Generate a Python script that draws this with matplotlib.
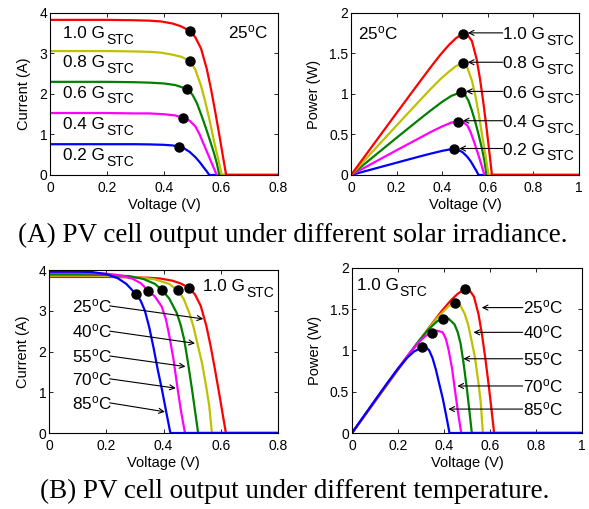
# PV cell I-V and P-V curves
# Top row: different solar irradiance at 25 C
# Bottom row: different temperature at 1.0 G_STC

import numpy as np
import matplotlib.pyplot as plt
from matplotlib.ticker import FuncFormatter

plt.rcParams["font.family"] = ["Liberation Sans", "DejaVu Sans"]
plt.rcParams["mathtext.fontset"] = "custom"
plt.rcParams["mathtext.rm"] = "Liberation Sans"
plt.rcParams["mathtext.it"] = "Liberation Sans:italic"

# ---------- DATA: irradiance sweep (25 C) ----------
irr_labels = ["0.2", "0.4", "0.6", "0.8", "1.0"]
irr_colors = ["#0000ff", "#ff00ff", "#008000", "#c0c000", "#ff0000"]

v_g02 = [0, 0.1, 0.2, 0.3, 0.35, 0.40, 0.43, 0.453, 0.47, 0.49, 0.51, 0.525, 0.54, 0.55, 0.559, 1.0]
i_g02 = [0.76, 0.76, 0.76, 0.76, 0.755, 0.745, 0.73, 0.70, 0.66, 0.57, 0.44, 0.32, 0.18, 0.09, 0, 0]

v_g04 = [0, 0.1, 0.2, 0.3, 0.35, 0.40, 0.44, 0.468, 0.49, 0.51, 0.525, 0.54, 0.555, 0.57, 0.585, 1.0]
i_g04 = [1.53, 1.53, 1.53, 1.52, 1.52, 1.50, 1.47, 1.41, 1.34, 1.20, 1.00, 0.75, 0.50, 0.25, 0, 0]

v_g06 = [0, 0.1, 0.2, 0.3, 0.35, 0.40, 0.44, 0.482, 0.50, 0.515, 0.53, 0.545, 0.56, 0.575, 0.585, 0.594, 1.0]
i_g06 = [2.30, 2.30, 2.30, 2.29, 2.28, 2.26, 2.22, 2.12, 1.98, 1.78, 1.50, 1.20, 0.88, 0.55, 0.30, 0, 0]

v_g08 = [0, 0.1, 0.2, 0.3, 0.35, 0.39, 0.43, 0.46, 0.49, 0.51, 0.53, 0.545, 0.56, 0.575, 0.59, 0.603, 1.0]
i_g08 = [3.06, 3.06, 3.06, 3.05, 3.04, 3.02, 2.97, 2.92, 2.82, 2.60, 2.20, 1.80, 1.35, 0.85, 0.40, 0, 0]

v_g10 = [0, 0.1, 0.2, 0.3, 0.35, 0.39, 0.43, 0.46, 0.49, 0.51, 0.53, 0.55, 0.565, 0.58, 0.595, 0.607, 0.618, 1.0]
i_g10 = [3.83, 3.83, 3.83, 3.82, 3.81, 3.79, 3.74, 3.67, 3.56, 3.40, 3.12, 2.62, 2.12, 1.55, 0.95, 0.45, 0, 0]

irr_v = [v_g02, v_g04, v_g06, v_g08, v_g10]
irr_i = [i_g02, i_g04, i_g06, i_g08, i_g10]

# maximum power points
mpp_irr_v = [0.453, 0.468, 0.482, 0.49, 0.49]
mpp_irr_i = [0.70, 1.41, 2.12, 2.82, 3.56]

# ---------- DATA: temperature sweep (1.0 G_STC) ----------
temp_labels = ["25", "40", "55", "70", "85"]
temp_colors = ["#ff0000", "#c0c000", "#008000", "#ff00ff", "#0000ff"]

v_t25 = v_g10
i_t25 = i_g10

v_t40 = [0, 0.1, 0.2, 0.3, 0.37, 0.42, 0.449, 0.47, 0.49, 0.505, 0.52, 0.535, 0.55, 0.56, 0.569, 1.0]
i_t40 = [3.86, 3.86, 3.855, 3.83, 3.77, 3.66, 3.50, 3.30, 2.95, 2.60, 2.15, 1.70, 1.10, 0.65, 0, 0]

v_t55 = [0, 0.1, 0.2, 0.28, 0.33, 0.37, 0.396, 0.42, 0.446, 0.46, 0.472, 0.485, 0.50, 0.51, 0.521, 1.0]
i_t55 = [3.89, 3.89, 3.88, 3.85, 3.78, 3.66, 3.50, 3.30, 2.95, 2.65, 2.30, 1.75, 1.05, 0.55, 0, 0]

v_t70 = [0, 0.1, 0.2, 0.25, 0.29, 0.32, 0.347, 0.37, 0.394, 0.408, 0.42, 0.435, 0.45, 0.462, 0.475, 1.0]
i_t70 = [3.93, 3.93, 3.91, 3.87, 3.79, 3.68, 3.49, 3.35, 3.10, 2.80, 2.40, 1.80, 1.05, 0.50, 0, 0]

v_t85 = [0, 0.1, 0.15, 0.2, 0.24, 0.27, 0.305, 0.32, 0.335, 0.35, 0.365, 0.38, 0.395, 0.41, 0.424, 1.0]
i_t85 = [3.96, 3.96, 3.95, 3.90, 3.80, 3.66, 3.40, 3.25, 3.00, 2.60, 2.10, 1.55, 1.05, 0.50, 0, 0]

temp_v = [v_t25, v_t40, v_t55, v_t70, v_t85]
temp_i = [i_t25, i_t40, i_t55, i_t70, i_t85]

mpp_temp_v = [0.49, 0.449, 0.396, 0.347, 0.305]
mpp_temp_i = [3.56, 3.50, 3.50, 3.49, 3.40]

LW = 1.6
MS = 6.5
TXT = 12.3
SUB = 10.0
DEG = "$^{\\mathrm{o}}$C"


def fmt(x, pos):
    return "%g" % x


def setup(ax, xmax, xstep, ymax, ystep, ylabel):
    ax.set_xlim(0, xmax)
    ax.set_ylim(0, ymax)
    ax.set_xticks(np.arange(0, xmax + 1e-9, xstep))
    ax.set_yticks(np.arange(0, ymax + 1e-9, ystep))
    ax.xaxis.set_major_formatter(FuncFormatter(fmt))
    ax.yaxis.set_major_formatter(FuncFormatter(fmt))
    ax.tick_params(direction="in", top=True, right=True, length=3, width=0.6,
                   labelsize=10)
    ax.tick_params(axis="x", pad=4.5)
    ax.tick_params(axis="y", pad=2)
    for s in ax.spines.values():
        s.set_linewidth(0.8)
    ax.set_xlabel("Voltage (V)", fontsize=10.5, labelpad=2)
    ax.set_ylabel(ylabel, fontsize=10.5, labelpad=6)


def label(ax, x, y, s):
    # y is the vertical centre of the capital letters
    return ax.annotate(s, xy=(x, y), xytext=(0, -0.358 * TXT), textcoords="offset points",
                       ha="left", va="baseline", fontsize=TXT)


def label_g(ax, x, y, s):
    # "x.x G" with a larger-than-mathtext STC subscript
    t = label(ax, x, y, s + " G")
    ax.annotate("STC", xy=(1, 0), xycoords=t, xytext=(0.6, -2.0),
                textcoords="offset points", ha="left", va="baseline", fontsize=SUB)
    return t


def arrow(ax, start, tip):
    ax.annotate("", xy=tip, xytext=start,
                arrowprops=dict(arrowstyle="->", color="k", lw=0.8,
                                shrinkA=0, shrinkB=0, mutation_scale=9))


fig = plt.figure(figsize=(5.89, 5.09), dpi=100)

# ---------- (A) irradiance ----------
ax1 = fig.add_axes([0.0849, 0.6562, 0.3871, 0.3183])
ax2 = fig.add_axes([0.5960, 0.6562, 0.3871, 0.3183])

for v, i, c in zip(irr_v, irr_i, irr_colors):
    v = np.array(v)
    i = np.array(i)
    ax1.plot(v, i, color=c, lw=LW)
    ax2.plot(v, v * i, color=c, lw=LW)
mv = np.array(mpp_irr_v)
mi = np.array(mpp_irr_i)
ax1.plot(mv, mi, "o", color="k", ms=MS, zorder=5)
ax2.plot(mv, mv * mi, "o", color="k", ms=MS, zorder=5)

setup(ax1, 0.8, 0.2, 4, 1, "Current (A)")
setup(ax2, 1.0, 0.2, 2, 0.5, "Power (W)")

irr_label_y = [0.52, 1.29, 2.06, 2.81, 3.54]
for s, y in zip(irr_labels, irr_label_y):
    label_g(ax1, 0.047, y, s)
label(ax1, 0.625, 3.53, "25" + DEG)

label(ax2, 0.031, 1.75, "25" + DEG)
for s, pv, pi in zip(irr_labels, mv, mi):
    p = pv * pi
    label_g(ax2, 0.667, p + 0.01, s)
    arrow(ax2, (0.665, p + 0.01), (pv + 0.022, p + 0.01))

# ---------- (B) temperature ----------
ax3 = fig.add_axes([0.0832, 0.1493, 0.3888, 0.3202])
ax4 = fig.add_axes([0.5976, 0.1493, 0.3905, 0.3242])

for v, i, c in zip(temp_v, temp_i, temp_colors):
    v = np.array(v)
    i = np.array(i)
    ax3.plot(v, i, color=c, lw=LW)
    ax4.plot(v, v * i, color=c, lw=LW)
tv = np.array(mpp_temp_v)
ti = np.array(mpp_temp_i)
ax3.plot(tv, ti, "o", color="k", ms=MS, zorder=5)
ax4.plot(tv, tv * ti, "o", color="k", ms=MS, zorder=5)

setup(ax3, 0.8, 0.2, 4, 1, "Current (A)")
setup(ax4, 1.0, 0.2, 2, 0.5, "Power (W)")

label_g(ax3, 0.539, 3.63, "1.0")
iv_text_y = [3.12, 2.50, 1.89, 1.33, 0.74]
iv_tips = [(0.539, 2.80), (0.510, 2.20), (0.477, 1.63), (0.443, 1.10), (0.405, 0.52)]
for s, y, tip in zip(temp_labels, iv_text_y, iv_tips):
    label(ax3, 0.079, y, s + DEG)
    arrow(ax3, (0.212, y), tip)

label_g(ax4, 0.02, 1.81, "1.0")
pv_text_y = [1.52, 1.22, 0.90, 0.57, 0.29]
pv_tips = [0.564, 0.528, 0.484, 0.458, 0.419]
for s, y, tx in zip(temp_labels, pv_text_y, pv_tips):
    label(ax4, 0.745, y, s + DEG)
    arrow(ax4, (0.742, y), (tx, y))

# ---------- captions ----------
fig.text(0.497, 0.538, "(A) PV cell output under different solar irradiance.",
         ha="center", va="center", fontsize=19.5, family="Liberation Serif")
fig.text(0.500, 0.035, "(B) PV cell output under different temperature.",
         ha="center", va="center", fontsize=19.5, family="Liberation Serif")

fig.savefig("out.png", dpi=100)
